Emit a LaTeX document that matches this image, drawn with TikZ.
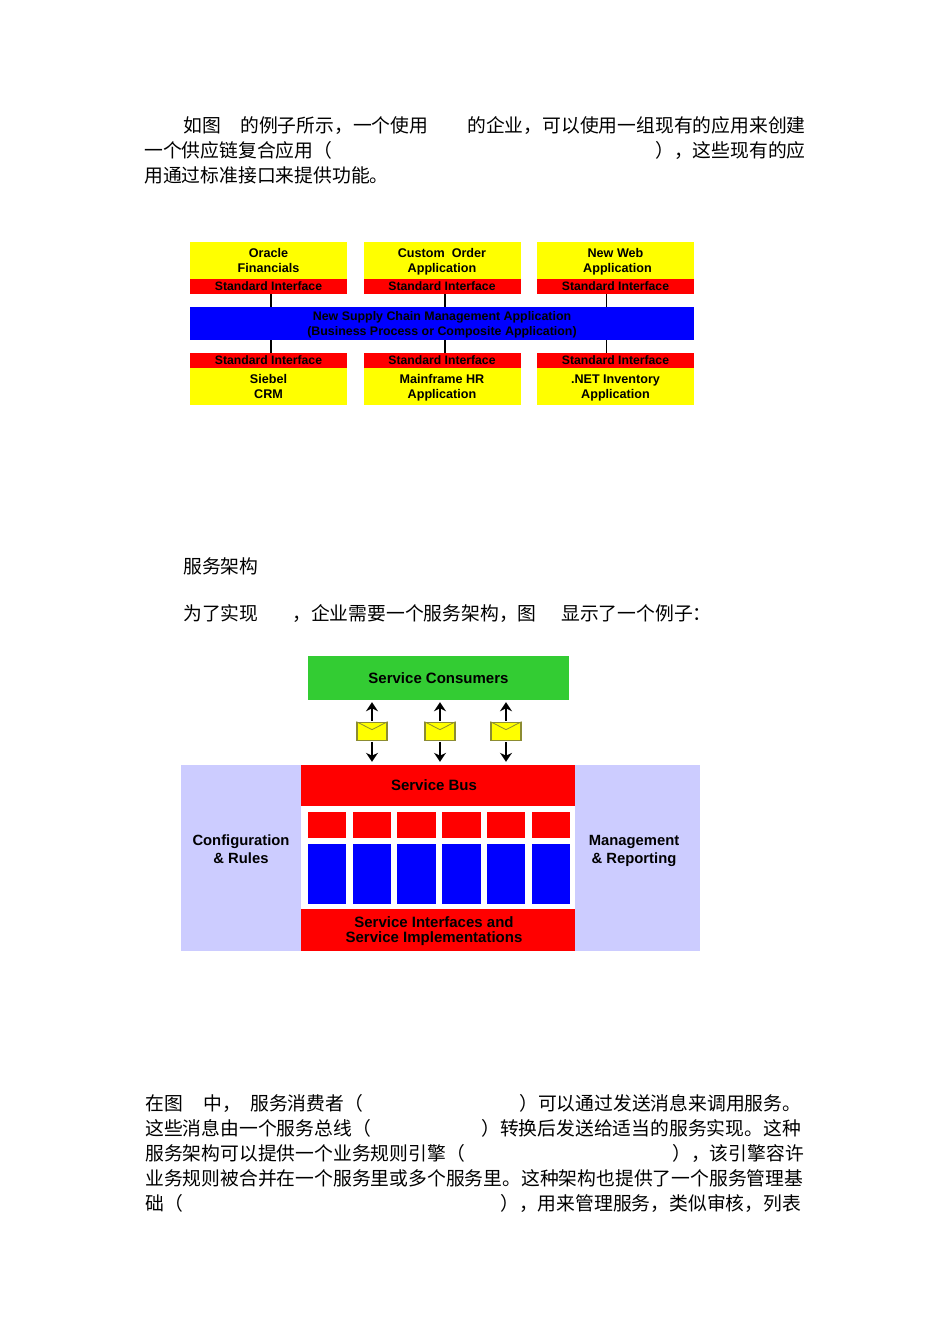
\documentclass[tikz,border=0pt]{standalone}
\usepackage{fontspec}
\setmainfont{Liberation Sans}
\newfontfamily\cjk{Noto Sans CJK SC}
\usetikzlibrary{arrows.meta}
\definecolor{appyellow}{RGB}{255,255,0}
\definecolor{busred}{RGB}{255,0,0}
\definecolor{appblue}{RGB}{0,0,255}
\definecolor{consumergreen}{RGB}{51,204,51}
\definecolor{sidelilac}{RGB}{204,204,255}
\definecolor{envedge}{RGB}{140,140,50}
\newcommand{\apppad}{\rule{0pt}{11pt}}
\tikzset{
    para/.style={anchor=west, inner sep=0, font=\cjk\fontsize{18.8}{22}\selectfont},
    appbox/.style={inner sep=0, align=center, font=\bfseries\fontsize{12.6}{15}\selectfont, fill=appyellow, minimum width=157, minimum height=37},
    ifacebox/.style={inner sep=0, font=\bfseries\fontsize{12.2}{15}\selectfont, text depth=0.8, fill=busred, minimum width=157, minimum height=15},
    compositebox/.style={inner sep=0, align=center, font=\bfseries\fontsize{12.4}{15}\selectfont, fill=appblue, minimum width=504, minimum height=33},
    bigblock/.style={inner sep=0, fill=busred, minimum width=274},
    biglabel/.style={inner sep=0, align=center, font=\bfseries\fontsize{15}{15.5}\selectfont},
    sidelabel/.style={inner sep=0, align=center, font=\bfseries\fontsize{14.8}{18}\selectfont},
    slotred/.style={fill=busred, inner sep=0, minimum width=38.5, minimum height=26},
    slotblue/.style={fill=appblue, inner sep=0, minimum width=38.5, minimum height=60},
    envelope/.style={fill=appyellow, draw=envedge, line width=1.2, inner sep=0, minimum width=30, minimum height=18.5},
    flap/.style={envedge, line width=0.8},
    link/.style={line width=1.6},
    msgarrow/.style={line width=2.4, -{Stealth[length=9, width=12]}}
}
\begin{document}
\begin{tikzpicture}[x=1pt, y=-1pt]
    \useasboundingbox[fill=white] (0, 0) rectangle (950, 1344);

    \node[para] (pa) at (183, 125.5) {如图};
    \node[para] (pb) at (240, 125.5) {的例子所示，一个使用};
    \node[para] (pc) at (467, 125.5) {的企业，可以使用一组现有的应用来创建};
    \node[para] (pd) at (144, 150.5) {一个供应链复合应用（};
    \node[para] (pe) at (655, 150.5) {），这些现有的应};
    \node[para] (pf) at (144, 175.5) {用通过标准接口来提供功能。};

    \node[ifacebox] (ifaceoracle) at (268.5, 286.5) {Standard Interface};
    \node[ifacebox] (ifaceorder) at (442, 286.5) {Standard Interface};
    \node[ifacebox] (ifaceweb) at (615.5, 286.5) {Standard Interface};
    \node[appbox] (oracle) at (268.5, 260.5) {Oracle\\Financials};
    \node[appbox] (order) at (442, 260.5) {\apppad Custom\ \ Order\\Application};
    \node[appbox] (web) at (615.5, 260.5) {\apppad New Web\\\hspace*{4pt}Application};

    \node[compositebox] (supply) at (442, 323.5) {\apppad New Supply Chain Management Application\\(Business Process or Composite Application)};

    \node[ifacebox] (ifacecrm) at (268.5, 360.5) {Standard Interface};
    \node[ifacebox] (ifacehr) at (442, 360.5) {Standard Interface};
    \node[ifacebox] (ifacenet) at (615.5, 360.5) {Standard Interface};
    \node[appbox] (crm) at (268.5, 386.5) {Siebel\\CRM};
    \node[appbox] (hr) at (442, 386.5) {\apppad Mainframe HR\\Application};
    \node[appbox] (net) at (615.5, 386.5) {\apppad .NET Inventory\\Application};

    \draw[link] ([xshift=2.5]ifaceoracle.south) -- ([xshift=2.5]ifaceoracle.south |- supply.north);
    \draw[link] ([xshift=3]ifaceorder.south) -- ([xshift=3]ifaceorder.south |- supply.north);
    \draw[link] ([xshift=-9]ifaceweb.south) -- ([xshift=-9]ifaceweb.south |- supply.north);
    \draw[link] ([xshift=2.5]ifacecrm.north) -- ([xshift=2.5]ifacecrm.north |- supply.south);
    \draw[link] ([xshift=3]ifacehr.north) -- ([xshift=3]ifacehr.north |- supply.south);
    \draw[link] ([xshift=-9]ifacenet.north) -- ([xshift=-9]ifacenet.north |- supply.south);

    \node[para] (pg) at (183, 566.5) {服务架构};
    \node[para] (ph) at (183, 613.5) {为了实现};
    \node[para] (pi) at (292, 613.5) {，企业需要一个服务架构，图};
    \node[para] (pj) at (561, 613.5) {显示了一个例子：};

    \node[biglabel, fill=consumergreen, minimum width=261, minimum height=44] (consumers) at (438.5, 678) {Service Consumers};

    \node[fill=sidelilac, inner sep=0, minimum width=120, minimum height=186] (config) at (241, 858) {};
    \node[fill=sidelilac, inner sep=0, minimum width=125, minimum height=186] (mgmt) at (637.5, 858) {};
    \node[sidelabel] (configlabel) at (241, 849) {Configuration\\\& Rules};
    \node[sidelabel] (mgmtlabel) at (634, 851) {Management\\\& Reporting};

    \node[bigblock, minimum height=41] (bus) at (438, 785.5) {};
    \node[bigblock, minimum height=42] (impl) at (438, 930) {};
    \node[biglabel] (buslabel) at (434, 785) {Service Bus};
    \node[biglabel] (impllabel) at (434, 931) {Service Interfaces and\\Service Implementations};

    \node[slotred] (reda) at (327, 825) {};
    \node[slotred] (redb) at (372, 825) {};
    \node[slotred] (redc) at (416.5, 825) {};
    \node[slotred] (redd) at (461.5, 825) {};
    \node[slotred] (rede) at (506, 825) {};
    \node[slotred] (redf) at (551, 825) {};

    \node[slotblue] (bluea) at (327, 874) {};
    \node[slotblue] (blueb) at (372, 874) {};
    \node[slotblue] (bluec) at (416.5, 874) {};
    \node[slotblue] (blued) at (461.5, 874) {};
    \node[slotblue] (bluee) at (506, 874) {};
    \node[slotblue] (bluef) at (551, 874) {};

    \node[envelope] (enva) at (372, 731.5) {};
    \node[envelope] (envb) at (440, 731.5) {};
    \node[envelope] (envc) at (506, 731.5) {};

    \draw[flap] (enva.north west) -- ([yshift=-8]enva.north) -- (enva.north east);
    \draw[flap] (envb.north west) -- ([yshift=-8]envb.north) -- (envb.north east);
    \draw[flap] (envc.north west) -- ([yshift=-8]envc.north) -- (envc.north east);

    \draw[msgarrow, shorten >=2, shorten <=1] (enva.north) -- (enva.north |- consumers.south);
    \draw[msgarrow, shorten >=2, shorten <=1] (envb.north) -- (envb.north |- consumers.south);
    \draw[msgarrow, shorten >=2, shorten <=1] (envc.north) -- (envc.north |- consumers.south);
    \draw[msgarrow, shorten >=3, shorten <=1] (enva.south) -- (enva.south |- bus.north);
    \draw[msgarrow, shorten >=3, shorten <=1] (envb.south) -- (envb.south |- bus.north);
    \draw[msgarrow, shorten >=3, shorten <=1] (envc.south) -- (envc.south |- bus.north);

    \node[para] (qa) at (145, 1103.5) {在图};
    \node[para] (qb) at (203, 1103.5) {中，};
    \node[para] (qc) at (250, 1103.5) {服务消费者（};
    \node[para] (qd) at (519, 1103.5) {）可以通过发送消息来调用服务。};
    \node[para] (qe) at (145, 1128.5) {这些消息由一个服务总线（};
    \node[para] (qf) at (481, 1128.5) {）转换后发送给适当的服务实现。这种};
    \node[para] (qg) at (145, 1153.5) {服务架构可以提供一个业务规则引擎（};
    \node[para] (qh) at (672, 1153.5) {），该引擎容许};
    \node[para] (qi) at (145, 1178.5) {业务规则被合并在一个服务里或多个服务里。这种架构也提供了一个服务管理基};
    \node[para] (qj) at (145, 1203.5) {础（};
    \node[para] (qk) at (500, 1203.5) {），用来管理服务，类似审核，列表};
\end{tikzpicture}
\end{document}
